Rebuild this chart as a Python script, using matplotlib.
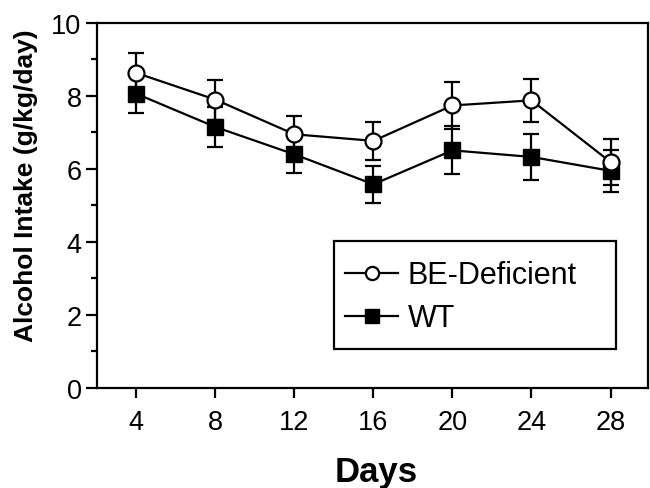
import matplotlib.pyplot as plt
from matplotlib.lines import Line2D
from matplotlib.patches import Rectangle

plt.rcParams['font.family'] = ['Liberation Sans', 'DejaVu Sans']

# values (mean +/- SEM)
days = [4, 8, 12, 16, 20, 24, 28]
be_mean = [8.63, 7.90, 6.95, 6.77, 7.74, 7.88, 6.19]
be_sem = [0.54, 0.55, 0.50, 0.53, 0.64, 0.59, 0.64]
wt_mean = [8.06, 7.15, 6.40, 5.58, 6.51, 6.33, 5.95]
wt_sem = [0.52, 0.55, 0.50, 0.50, 0.66, 0.64, 0.58]

y_major = [0, 2, 4, 6, 8, 10]
y_minor = [1, 3, 5, 7, 9]

fig = plt.figure(figsize=(6.5, 4.89), dpi=100)
ax = fig.add_axes([0.149, 0.2045, 0.848, 0.7465])

lw = 1.6
ax.errorbar(days, wt_mean, yerr=wt_sem, color='black', lw=lw,
            marker='s', ms=11, mfc='black', mec='black',
            capsize=5.5, capthick=lw, elinewidth=lw, zorder=3)
ax.errorbar(days, be_mean, yerr=be_sem, color='black', lw=lw,
            marker='o', ms=11.5, mfc='white', mec='black', mew=lw,
            capsize=5.5, capthick=lw, elinewidth=lw, zorder=4)

ax.set_xlim(2, 29.9)
ax.set_ylim(0, 10)
ax.set_xticks(days)
ax.set_yticks(y_major)
ax.set_yticks(y_minor, minor=True)

for s in ax.spines.values():
    s.set_linewidth(1.6)

ax.tick_params(axis='x', which='major', direction='out', length=7,
               width=1.6, pad=8, labelsize=19.5)
ax.tick_params(axis='y', which='major', direction='out', length=8,
               width=1.6, pad=3, labelsize=19.5)
ax.tick_params(axis='y', which='minor', direction='out', length=4.5,
               width=1.6)

ax.set_ylabel('Alcohol Intake (g/kg/day)', fontsize=19, fontweight='bold')
ax.yaxis.set_label_coords(-0.107, 0.557)
ax.set_xlabel('Days', fontsize=25, fontweight='bold')
ax.xaxis.label.set_va('baseline')
ax.xaxis.set_label_coords(0.507, -0.254)

# legend frame drawn on its own, it is wider than the entries
ax.add_patch(Rectangle((0.430, 0.107), 0.512, 0.297, transform=ax.transAxes,
                       fill=False, ec='black', lw=1.6, zorder=5))
handles = [
    Line2D([], [], color='black', lw=lw, marker='o', ms=9.5, mfc='white',
           mec='black', mew=lw),
    Line2D([], [], color='black', lw=lw, marker='s', ms=9.5, mfc='black',
           mec='black'),
]
ax.legend(handles, ['BE-Deficient', 'WT'], loc='center left',
          bbox_to_anchor=(0.450, 0.2496), frameon=False, fontsize=22,
          borderpad=0, borderaxespad=0, handlelength=1.75,
          handletextpad=0.3, labelspacing=0.42)

fig.savefig('out.png', dpi=100)
